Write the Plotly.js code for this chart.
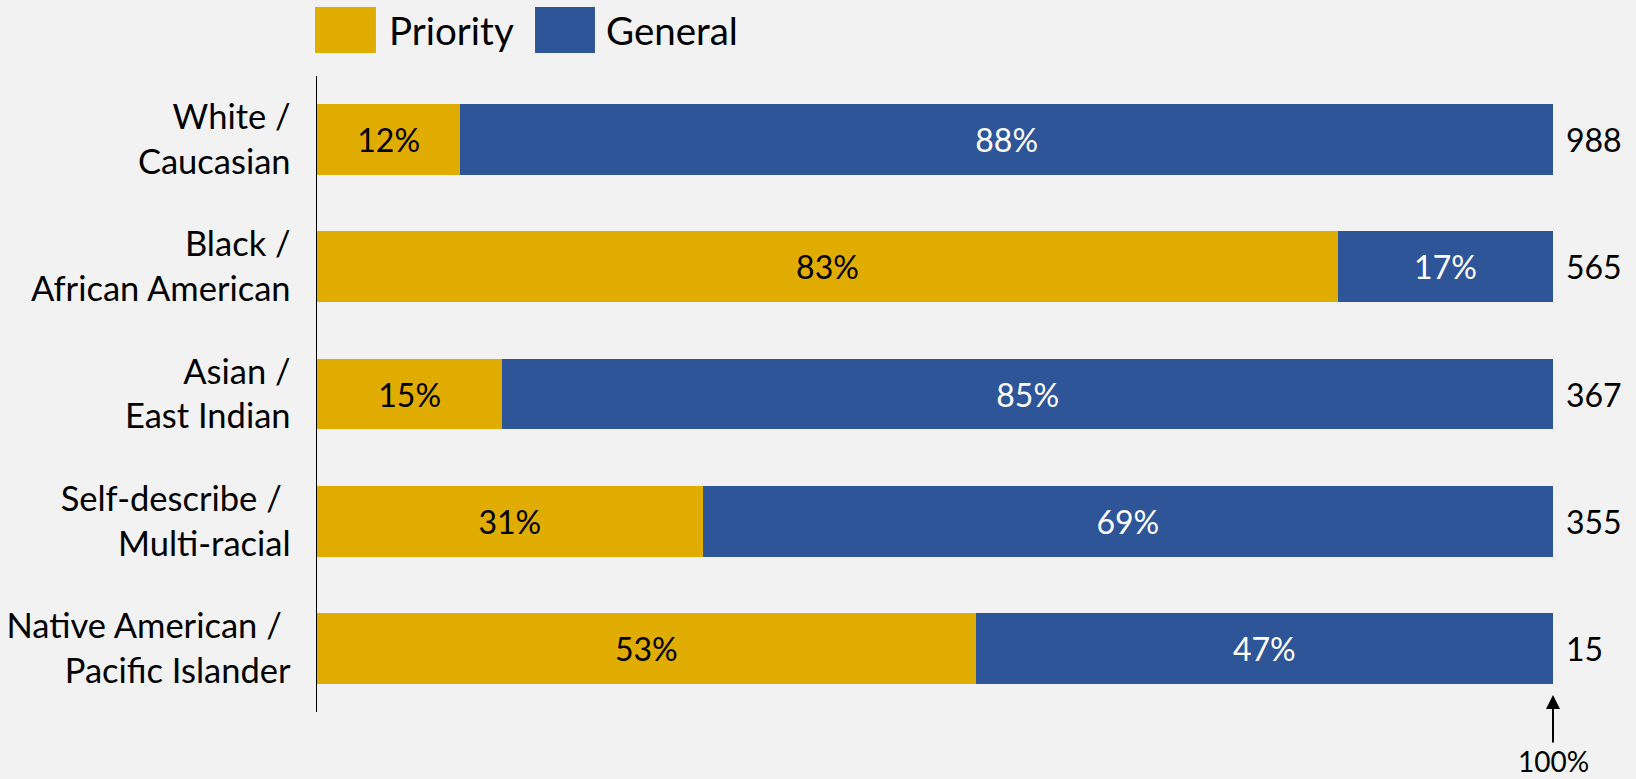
<!DOCTYPE html>
<html>
<head>
<meta charset="utf-8">
<script src="https://cdn.plot.ly/plotly-3.0.1.min.js"></script>
<style>
html,body{margin:0;padding:0;background:#F2F2F2;}
#chart{width:1636px;height:779px;}
</style>
</head>
<body>
<div id="chart"></div>
<script>
const categories = [
  "White /<br>Caucasian",
  "Black /<br>African American",
  "Asian /<br>East Indian",
  "Self-describe /\u00A0<br>Multi-racial",
  "Native American /\u00A0<br>Pacific Islander"
];
const priorityValues = [11.6, 82.6, 15.0, 31.2, 53.3];
const generalValues = [88.4, 17.4, 85.0, 68.8, 46.7];
const totals = ["988", "565", "367", "355", "15"];
const seriesNames = ["Priority", "General"];
const seriesColors = ["#E0AC00", "#2E5597"];
const referenceLabel = "100%";

const FONT = "Lato, 'Open Sans', sans-serif";

const traces = [
  {
    type: "bar", orientation: "h", name: seriesNames[0],
    y: categories, x: priorityValues.map(v => v / 100),
    marker: {color: seriesColors[0]},
    text: priorityValues.map(v => Math.round(v) + "%"),
    texttemplate: "%{text}",
    textposition: "inside", insidetextanchor: "middle", textangle: 0,
    textfont: {family: FONT, size: 32, color: "#000000"},
    hoverinfo: "skip"
  },
  {
    type: "bar", orientation: "h", name: seriesNames[1],
    y: categories, x: generalValues.map(v => v / 100),
    marker: {color: seriesColors[1]},
    text: generalValues.map(v => Math.round(v) + "%"),
    texttemplate: "%{text}",
    textposition: "inside", insidetextanchor: "middle", textangle: 0,
    textfont: {family: FONT, size: 32, color: "#FFFFFF"},
    hoverinfo: "skip"
  }
];

const annotations = categories.map((c, i) => ({
  x: 1, y: c, xref: "x", yref: "y", text: totals[i],
  showarrow: false, xanchor: "left", yanchor: "middle", xshift: 11,
  font: {family: FONT, size: 32, color: "#000000"}
}));

annotations.push({
  x: 1, y: 0.0267, xref: "x", yref: "paper", text: referenceLabel,
  showarrow: true, ax: 0, ay: 66, arrowhead: 2, arrowsize: 1.4, arrowwidth: 2,
  arrowcolor: "#000000", standoff: 0,
  font: {family: FONT, size: 28, color: "#000000"}
});

// legend labels
annotations.push({
  x: 0.0566, y: 1.0723, xref: "paper", yref: "paper", text: seriesNames[0],
  showarrow: false, xanchor: "left", yanchor: "middle",
  font: {family: FONT, size: 38.5, color: "#000000"}
});
annotations.push({
  x: 0.2325, y: 1.0723, xref: "paper", yref: "paper", text: seriesNames[1],
  showarrow: false, xanchor: "left", yanchor: "middle",
  font: {family: FONT, size: 38.5, color: "#000000"}
});

const shapes = [
  {type: "rect", xref: "paper", yref: "paper", x0: -0.0016, x1: 0.0477, y0: 1.0362, y1: 1.1085,
   fillcolor: seriesColors[0], line: {width: 0}},
  {type: "rect", xref: "paper", yref: "paper", x0: 0.1764, x1: 0.2249, y0: 1.0362, y1: 1.1085,
   fillcolor: seriesColors[1], line: {width: 0}}
];

const layout = {
  width: 1636, height: 779,
  margin: {l: 317, r: 83, t: 76, b: 67, pad: 0},
  paper_bgcolor: "#F2F2F2", plot_bgcolor: "#F2F2F2",
  barmode: "stack", bargap: 0.443,
  showlegend: false,
  font: {family: FONT, color: "#000000"},
  xaxis: {range: [0, 1], visible: false, fixedrange: true},
  yaxis: {
    autorange: "reversed", showline: true, linecolor: "#000000", linewidth: 1.5,
    showgrid: false, zeroline: false, ticks: "", ticklabelstandoff: 18,
    tickfont: {family: FONT, size: 34.5, color: "#000000"}, fixedrange: true
  },
  annotations: annotations,
  shapes: shapes
};

Plotly.newPlot("chart", traces, layout, {displayModeBar: false, staticPlot: true});
</script>
</body>
</html>
